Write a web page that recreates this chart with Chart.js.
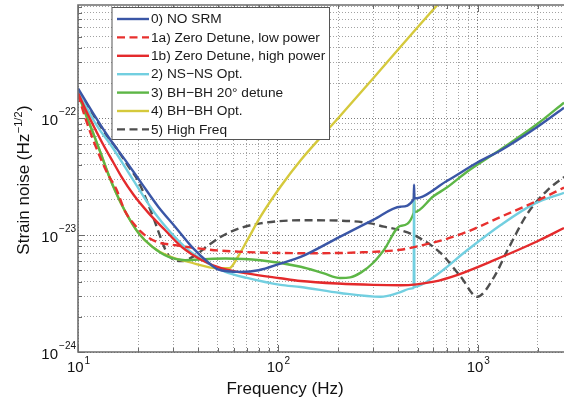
<!DOCTYPE html>
<html>
<head>
<meta charset="utf-8">
<script src="https://cdn.jsdelivr.net/npm/chart.js@4.4.1/dist/chart.umd.min.js"></script>
<style>
  html, body { margin: 0; padding: 0; background: #fff; }
  #wrap { width: 564px; height: 401px; }
</style>
</head>
<body>
<div id="wrap"><canvas id="noiseChart" width="564" height="401"></canvas></div>
<script>
// --- data (frequency in Hz, strain noise in 1/sqrt(Hz)) ---
const seriesLabels = [
    '0) NO SRM',
    '1a) Zero Detune, low power',
    '1b) Zero Detune, high power',
    '2) NS\u2212NS Opt.',
    '3) BH\u2212BH 20\u00b0 detune',
    '4) BH\u2212BH Opt.',
    '5) High Freq'
];

const noSrmFreq  = [10, 12.2, 14.2, 17.2, 20.8, 25.2, 30.6, 37.2, 45, 50, 65, 80, 103, 130, 205, 300, 411, 478, 480, 482, 700, 1000, 1300, 2000, 2700];
const noSrmNoise = [1.8e-22, 1.03e-22, 6.9e-23, 4.4e-23, 2.77e-23, 1.75e-23, 1.18e-23, 7.9e-24, 5.8e-24, 5.1e-24, 4.85e-24, 5.0e-24, 5.7e-24, 6.5e-24, 9.7e-24, 1.35e-23, 1.75e-23, 2.03e-23, 2.7e-23, 2.06e-23, 2.9e-23, 4.2e-23, 5.3e-23, 8.5e-23, 1.23e-22];

const lowPowerFreq  = [10, 11, 12, 13, 14, 15.5, 17.2, 19, 20.5, 22.5, 25, 30.6, 40, 50, 80, 145, 250, 411, 480, 700, 887, 1300, 2000, 2700];
const lowPowerNoise = [1.6e-22, 9.5e-23, 6.3e-23, 4.5e-23, 3.4e-23, 2.5e-23, 1.6e-23, 1.25e-23, 1.08e-23, 9.5e-24, 8.7e-24, 8.2e-24, 7.7e-24, 7.4e-24, 7.1e-24, 7.0e-24, 7.1e-24, 7.5e-24, 7.9e-24, 9.3e-24, 1.07e-23, 1.43e-23, 1.98e-23, 2.55e-23];

const highPowerFreq  = [10, 11, 12, 13.4, 15, 16.6, 19, 22.5, 27.3, 33.1, 41.7, 52.5, 70, 103, 130, 200, 300, 411, 604, 800, 1208, 2000, 2700];
const highPowerNoise = [1.65e-22, 1.15e-22, 8.5e-23, 5.9e-23, 4.2e-23, 3.1e-23, 2.2e-23, 1.55e-23, 1.1e-23, 7.9e-24, 6.1e-24, 5.2e-24, 4.7e-24, 4.27e-24, 4.05e-24, 3.85e-24, 3.75e-24, 3.72e-24, 4.0e-24, 4.6e-24, 6.1e-24, 8.9e-24, 1.15e-23];

const nsnsFreq  = [10, 11, 12.5, 14.8, 18.9, 24.3, 34.3, 45, 54.6, 70, 103, 130, 205, 327, 400, 470, 478, 480, 482, 604, 887, 1303, 1914, 2700];
const nsnsNoise = [1.7e-22, 1.25e-22, 8.5e-23, 5.7e-23, 2.95e-23, 1.53e-23, 7.9e-24, 5.7e-24, 4.85e-24, 4.3e-24, 3.75e-24, 3.6e-24, 3.2e-24, 2.97e-24, 3.2e-24, 3.5e-24, 3.55e-24, 2.0e-23, 3.6e-24, 4.4e-24, 7.45e-24, 1.22e-23, 1.85e-23, 2.3e-23];

const bhbhDetuneFreq  = [10, 11, 12, 13, 14.2, 15.5, 17.2, 20, 23.4, 28.4, 34.3, 45, 54.6, 81.7, 130, 170, 205, 230, 261, 300, 340, 411, 478, 480, 482, 600, 700, 887, 1300, 2000, 2700];
const bhbhDetuneNoise = [1.65e-22, 1.05e-22, 7.2e-23, 5.0e-23, 3.3e-23, 2.3e-23, 1.6e-23, 1.05e-23, 8.0e-24, 6.5e-24, 6.1e-24, 6.25e-24, 6.3e-24, 6.1e-24, 5.36e-24, 4.7e-24, 4.3e-24, 4.35e-24, 4.8e-24, 5.8e-24, 7.5e-24, 1.2e-23, 1.55e-23, 2.3e-23, 1.57e-23, 2.15e-23, 2.55e-23, 3.5e-23, 5.4e-23, 9.0e-23, 1.36e-22];

const bhbhOptFreq  = [10, 11, 12, 13, 14.2, 15.5, 17.2, 20, 23.4, 28.4, 35.7, 50.5, 57, 63, 70.2, 81.7, 103, 130, 200, 300, 500, 700];
const bhbhOptNoise = [1.65e-22, 1.05e-22, 7.2e-23, 5.0e-23, 3.3e-23, 2.3e-23, 1.6e-23, 1.05e-23, 8.0e-24, 6.6e-24, 5.9e-24, 5.2e-24, 5.2e-24, 6.5e-24, 9.0e-24, 1.43e-23, 2.59e-23, 4.37e-23, 1.0e-22, 2.2e-22, 6.0e-22, 1.15e-21];

const highFreqFreq  = [10, 12, 14, 15.6, 18, 20, 23.4, 25.8, 27.9, 30.6, 33, 38, 45, 51.7, 65, 81.7, 130, 205, 291, 339, 411, 499, 653, 822, 995, 1208, 1410, 1774, 2234, 2710];
const highFreqNoise = [1.75e-22, 1.05e-22, 7.0e-23, 5.5e-23, 3.8e-23, 2.9e-23, 1.53e-23, 9.7e-24, 7.0e-24, 6.1e-24, 6.0e-24, 6.6e-24, 8.2e-24, 9.66e-24, 1.15e-23, 1.26e-23, 1.34e-23, 1.33e-23, 1.26e-23, 1.18e-23, 1.1e-23, 9.66e-24, 7.0e-24, 4.4e-24, 2.97e-24, 4.4e-24, 7.45e-24, 1.53e-23, 2.43e-23, 3.15e-23];

// axis range and ticks
const xMin = 10, xMax = 2700;
const yMin = 1e-24, yMax = 9.3e-22;
const xDecades = [10, 100, 1000];
const yDecades = [1e-24, 1e-23, 1e-22];
const xTickLabels = ['1', '2', '3'];
const yTickLabels = ['\u221224', '\u221223', '\u221222'];
const minorSteps = [1, 2, 3, 4, 5, 6, 7, 8, 9];

const FONT = "'Liberation Sans', Arial, Helvetica, sans-serif";

function toPoints(freqs, vals) {
    return freqs.map((f, i) => ({ x: f, y: vals[i] }));
}

function gridValues(decades, lo, hi) {
    const out = [];
    decades.forEach(d => minorSteps.forEach(m => {
        const v = d * m;
        if (v >= lo * 0.9999 && v <= hi * 1.0001) out.push(v);
    }));
    return out;
}

function isDecade(v, decades) {
    return decades.some(d => Math.abs(v / d - 1) < 1e-6);
}

function makeSet(label, freqs, vals, color, dash) {
    return {
        label: label,
        data: toPoints(freqs, vals),
        borderColor: color,
        borderWidth: 2.4,
        borderDash: dash || [],
        pointRadius: 0,
        fill: false,
        cubicInterpolationMode: 'monotone'
    };
}

// draws "10" with a raised exponent
function drawPower(ctx, exp, x, y, align, rise) {
    ctx.font = `15px ${FONT}`;
    const wb = ctx.measureText('10').width;
    ctx.font = `10px ${FONT}`;
    const we = ctx.measureText(exp).width;
    const left = align === 'right' ? x - wb - we - 1 : x - (wb + we) / 2;
    ctx.textAlign = 'left';
    ctx.textBaseline = 'alphabetic';
    ctx.font = `15px ${FONT}`;
    ctx.fillText('10', left, y);
    ctx.font = `10px ${FONT}`;
    ctx.fillText(exp, left + wb + 1, y - rise);
}

const decorPlugin = {
    id: 'decor',
    afterDraw(chart) {
        const ctx = chart.ctx;
        const a = chart.chartArea;
        const xs = chart.scales.x, ys = chart.scales.y;
        ctx.save();

        // small inward tick marks
        ctx.strokeStyle = '#6a6a6a';
        ctx.lineWidth = 1;
        ctx.beginPath();
        xs.ticks.forEach(t => {
            if (t.value >= xMax) return;
            const px = Math.round(xs.getPixelForValue(t.value)) + 0.5;
            const len = isDecade(t.value, xDecades) ? 7 : 4;
            ctx.moveTo(px, a.bottom); ctx.lineTo(px, a.bottom - len);
            ctx.moveTo(px, a.top); ctx.lineTo(px, a.top + len);
        });
        ys.ticks.forEach(t => {
            const py = Math.round(ys.getPixelForValue(t.value)) + 0.5;
            const len = isDecade(t.value, yDecades) ? 7 : 4;
            ctx.moveTo(a.left, py); ctx.lineTo(a.left + len, py);
        });
        ctx.stroke();

        // axes frame
        ctx.strokeStyle = '#6e6e6e';
        ctx.lineWidth = 1.6;
        ctx.beginPath();
        ctx.moveTo(a.right, a.top); ctx.lineTo(a.left, a.top);
        ctx.lineTo(a.left, a.bottom); ctx.lineTo(a.right, a.bottom);
        ctx.stroke();

        // tick labels
        ctx.fillStyle = '#111';
        xDecades.forEach((v, i) => {
            drawPower(ctx, xTickLabels[i], xs.getPixelForValue(v), 372, 'center', 8);
        });
        yDecades.forEach((v, i) => {
            drawPower(ctx, yTickLabels[i], 76, ys.getPixelForValue(v) + 7, 'right', 10);
        });

        // axis titles
        ctx.font = `17px ${FONT}`;
        ctx.textAlign = 'center';
        ctx.textBaseline = 'alphabetic';
        ctx.fillText('Frequency (Hz)', (a.left + 490) / 2 + 1, 394);

        ctx.save();
        ctx.translate(29, 180);
        ctx.rotate(-Math.PI / 2);
        const p1 = 'Strain noise (Hz', p2 = '\u22121/2', p3 = ')';
        ctx.font = `17px ${FONT}`;
        const w1 = ctx.measureText(p1).width, w3 = ctx.measureText(p3).width;
        ctx.font = `11px ${FONT}`;
        const w2 = ctx.measureText(p2).width;
        let sx = -(w1 + w2 + w3 + 1) / 2;
        ctx.textAlign = 'left';
        ctx.font = `17px ${FONT}`;
        ctx.fillText(p1, sx, 0);
        ctx.font = `11px ${FONT}`;
        ctx.fillText(p2, sx + w1 + 0.5, -7);
        ctx.font = `17px ${FONT}`;
        ctx.fillText(p3, sx + w1 + w2 + 1, 0);
        ctx.restore();

        // legend box
        const box = { left: 112, top: 7.5, right: 329.5, bottom: 139.5 };
        ctx.fillStyle = '#fff';
        ctx.fillRect(box.left, box.top, box.right - box.left, box.bottom - box.top);
        ctx.strokeStyle = '#555';
        ctx.lineWidth = 1;
        ctx.strokeRect(box.left, box.top, box.right - box.left, box.bottom - box.top);
        chart.data.datasets.forEach((ds, i) => {
            const cy = 19 + i * 18.4;
            ctx.save();
            ctx.strokeStyle = ds.borderColor;
            ctx.lineWidth = ds.borderWidth;
            ctx.setLineDash(ds.borderDash || []);
            ctx.beginPath();
            ctx.moveTo(117, cy); ctx.lineTo(149, cy);
            ctx.stroke();
            ctx.restore();
            ctx.fillStyle = '#1a1a1a';
            ctx.font = `13.7px ${FONT}`;
            ctx.textAlign = 'left';
            ctx.textBaseline = 'middle';
            ctx.fillText(ds.label, 151, cy + 0.5);
        });

        ctx.restore();
    }
};

const gridX = gridValues(xDecades, xMin, xMax);
const gridY = gridValues(yDecades, yMin, yMax);

function axisOptions(min, max, ticksList, decades, size, isX) {
    return {
        type: 'logarithmic',
        min: min,
        max: max,
        afterBuildTicks: (scale) => {
            scale.ticks = ticksList.map(v => ({ value: v, major: isDecade(v, decades) }));
        },
        afterFit: (scale) => {
            if (isX) scale.height = size; else scale.width = size;
        },
        ticks: { display: false },
        grid: {
            drawTicks: false,
            lineWidth: 1,
            color: (c) => (c.tick && isDecade(c.tick.value, decades)) ? '#7a7a7a' : '#a2a2a2'
        },
        border: { display: false, dash: [1, 2] }
    };
}

new Chart(document.getElementById('noiseChart'), {
    type: 'line',
    data: {
        datasets: [
            makeSet(seriesLabels[0], noSrmFreq, noSrmNoise, '#3a56a6'),
            makeSet(seriesLabels[1], lowPowerFreq, lowPowerNoise, '#e8302e', [8, 4.5]),
            makeSet(seriesLabels[2], highPowerFreq, highPowerNoise, '#e42a2c'),
            makeSet(seriesLabels[3], nsnsFreq, nsnsNoise, '#72cfe0'),
            makeSet(seriesLabels[4], bhbhDetuneFreq, bhbhDetuneNoise, '#5db646'),
            makeSet(seriesLabels[5], bhbhOptFreq, bhbhOptNoise, '#d5c93c'),
            makeSet(seriesLabels[6], highFreqFreq, highFreqNoise, '#4e4e4e', [8, 4.5])
        ]
    },
    options: {
        responsive: false,
        animation: false,
        devicePixelRatio: 1,
        layout: { padding: { top: 5, right: 0, left: 0, bottom: 0 } },
        scales: {
            x: axisOptions(xMin, xMax, gridX, xDecades, 49, true),
            y: axisOptions(yMin, yMax, gridY, yDecades, 78, false)
        },
        plugins: {
            legend: { display: false },
            tooltip: { enabled: false }
        }
    },
    plugins: [decorPlugin]
});
</script>
</body>
</html>
